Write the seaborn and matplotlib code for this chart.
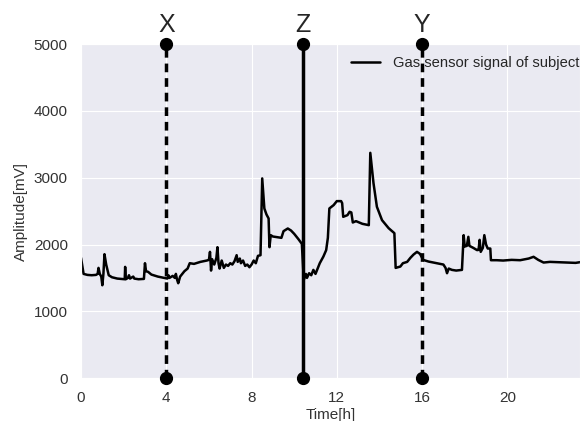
import seaborn as sns
import matplotlib.pyplot as plt
import pandas as pd

# values
time_h = [0.0, 0.05, 0.12, 0.3, 0.5, 0.7, 0.78, 0.82, 0.88, 0.95, 1.0, 1.05, 1.1, 1.18, 1.3, 1.45,
          1.7, 1.9, 2.05, 2.07, 2.1, 2.2, 2.25, 2.3, 2.45, 2.5, 2.7, 2.95, 3.0, 3.05, 3.15, 3.3,
          3.6, 3.9, 4.05, 4.1, 4.15, 4.3, 4.4, 4.45, 4.5, 4.56, 4.65, 4.85, 5.0, 5.1, 5.3, 5.6,
          5.9, 6.0, 6.05, 6.1, 6.15, 6.25, 6.35, 6.4, 6.45, 6.5, 6.6, 6.7, 6.8, 6.9, 7.0, 7.1,
          7.2, 7.3, 7.35, 7.45, 7.5, 7.6, 7.7, 7.8, 7.9, 8.0, 8.1, 8.2, 8.3, 8.42, 8.5, 8.6,
          8.7, 8.8, 8.84, 8.9, 9.0, 9.2, 9.4, 9.5, 9.7, 9.85, 10.0, 10.2, 10.36, 10.45, 10.55, 10.6,
          10.7, 10.8, 10.9, 11.0, 11.1, 11.2, 11.37, 11.5, 11.58, 11.65, 11.85, 12.0, 12.2, 12.25, 12.3, 12.5,
          12.6, 12.68, 12.75, 12.9, 13.2, 13.5, 13.57, 13.72, 13.88, 14.12, 14.43, 14.7, 14.76, 14.98, 15.1, 15.3,
          15.45, 15.6, 15.76, 15.9, 16.05, 16.3, 16.7, 17.0, 17.1, 17.17, 17.25, 17.4, 17.6, 17.87, 17.95, 18.0,
          18.1, 18.17, 18.22, 18.4, 18.58, 18.65, 18.7, 18.75, 18.85, 18.92, 19.0, 19.08, 19.2, 19.23, 19.5, 19.8,
          20.2, 20.6, 21.0, 21.23, 21.45, 21.7, 22.0, 22.4, 22.8, 23.2, 23.5]
amp_mv = [1800, 1700, 1560, 1545, 1540, 1545, 1560, 1650, 1560, 1520, 1390, 1560, 1855, 1700, 1540, 1510,
          1490, 1485, 1480, 1665, 1480, 1500, 1540, 1490, 1520, 1490, 1480, 1485, 1720, 1600, 1590, 1550,
          1520, 1500, 1490, 1540, 1500, 1530, 1500, 1560, 1480, 1420, 1520, 1600, 1640, 1720, 1710, 1740,
          1760, 1770, 1890, 1610, 1780, 1700, 1800, 1960, 1720, 1640, 1760, 1650, 1700, 1680, 1720, 1700,
          1750, 1840, 1740, 1790, 1720, 1760, 1680, 1700, 1660, 1700, 1760, 1720, 1830, 1840, 2990, 2540,
          2450, 2390, 1960, 2140, 2120, 2110, 2100, 2200, 2240, 2210, 2160, 2080, 2010, 1470, 1560, 1500,
          1570, 1540, 1620, 1560, 1640, 1720, 1820, 1916, 2100, 2540, 2590, 2650, 2650, 2620, 2415, 2440,
          2490, 2480, 2330, 2350, 2310, 2290, 3373, 2920, 2565, 2365, 2245, 2170, 1650, 1670, 1720, 1740,
          1800, 1850, 1890, 1860, 1770, 1745, 1720, 1700, 1650, 1570, 1640, 1620, 1610, 1620, 2140, 1970,
          1980, 2115, 1980, 1950, 1916, 1920, 2070, 1890, 1950, 2140, 2000, 1940, 1940, 1765, 1765, 1760,
          1770, 1765, 1790, 1816, 1770, 1730, 1740, 1735, 1730, 1725, 1740]

marker_times = [4, 10.4, 16]
marker_names = ["X", "Z", "Y"]
marker_styles = ["--", "-", "--"]

signal = pd.DataFrame({"Time[h]": time_h, "Amplitude[mV]": amp_mv})

sns.set_style("darkgrid")
plt.rcParams['font.family'] = ['Liberation Sans', 'DejaVu Sans']

fig = plt.figure(figsize=(5.8, 4.21), dpi=100)
ax = fig.add_axes([0.1397, 0.102, 0.860, 0.793])

sns.lineplot(x="Time[h]", y="Amplitude[mV]", data=signal, color="black", lw=1.8,
             label="Gas sensor signal of subject", ax=ax)

for t, name, ls in zip(marker_times, marker_names, marker_styles):
    line, = ax.plot([t, t], [0, 5000], color="black", ls=ls, lw=2.5, marker="o", ms=8.5,
                    clip_on=False, zorder=5)
    if ls == "--":
        line.set_dashes((2.5, 1.7))
        line.set_dash_capstyle("butt")
    ax.annotate(name, (t, 5000), xytext=(0, 8.5), textcoords="offset points",
                ha="center", va="baseline", fontsize=18, annotation_clip=False)

ax.set_xlim(0, 23.4)
ax.set_ylim(0, 5000)
ax.set_xticks([0, 4, 8, 12, 16, 20])
ax.set_yticks([0, 1000, 2000, 3000, 4000, 5000])
ax.tick_params(labelsize=11, colors="#333333", pad=6)
ax.set_xlabel("Time[h]", fontsize=11, color="#333333", labelpad=2)
ax.set_ylabel("Amplitude[mV]", fontsize=11, color="#333333", labelpad=4)

ax.legend(loc="center left", bbox_to_anchor=(0.541, 0.943), frameon=False,
          borderaxespad=0, borderpad=0, fontsize=10.6, handletextpad=0.85)

fig.savefig("out.png", dpi=100)
